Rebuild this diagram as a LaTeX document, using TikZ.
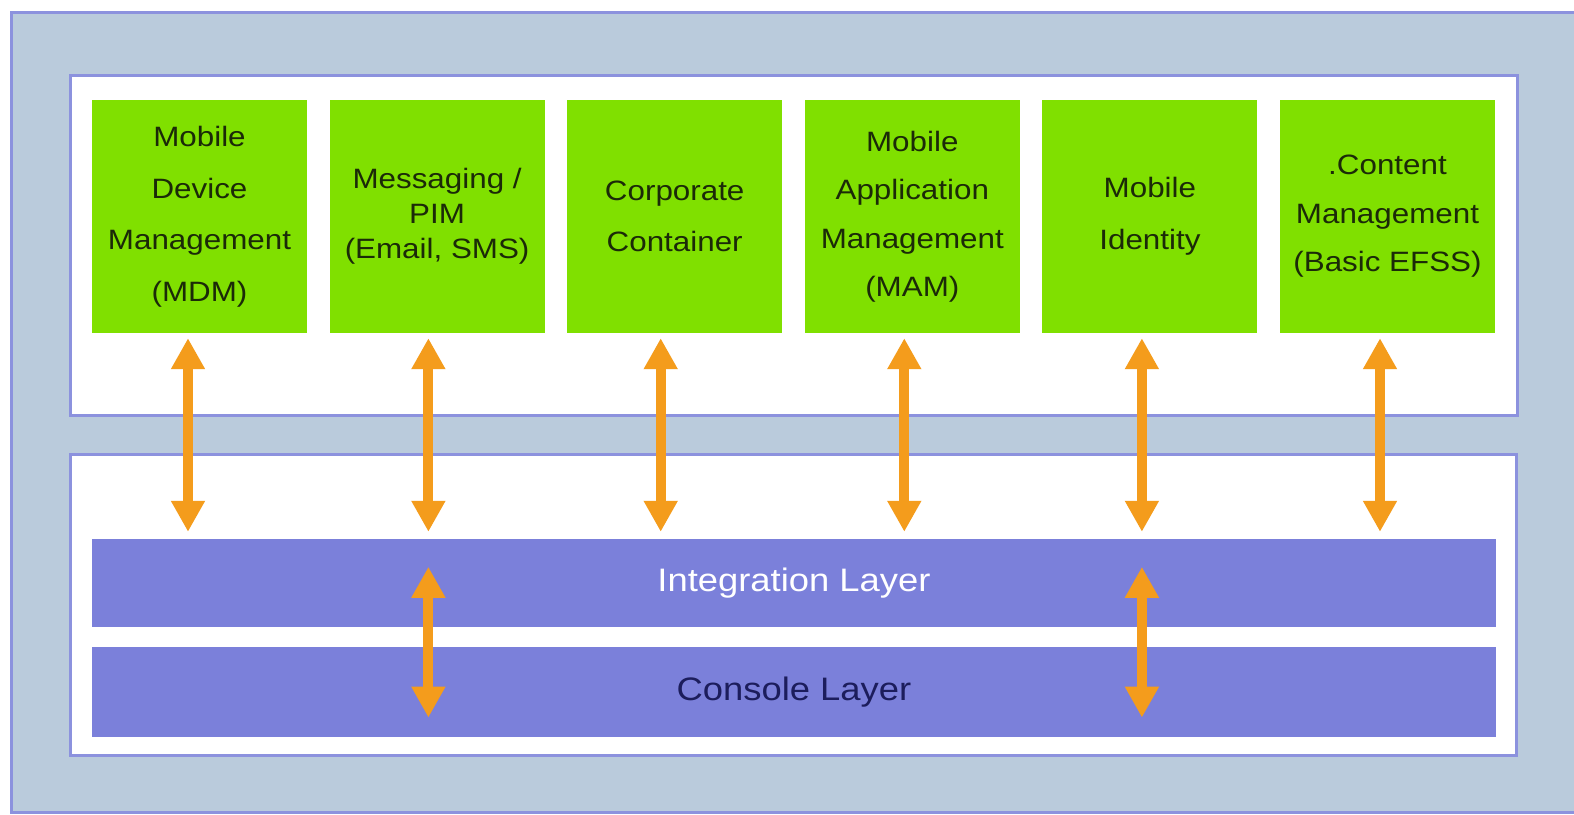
\documentclass[tikz,border=0pt]{standalone}
\usepackage{fontspec}
\setmainfont{Liberation Sans}[FakeStretch=1.12]
\usepackage{xcolor}
\usepackage{tikz}
\usetikzlibrary{positioning}
\usetikzlibrary{arrows.meta}
\usetikzlibrary{calc}

\definecolor{panelblue}{HTML}{BACBDC}
\definecolor{edgeblue}{HTML}{8C92DE}
\definecolor{modgreen}{HTML}{80E000}
\definecolor{layerblue}{HTML}{7B80DA}
\definecolor{arroworange}{HTML}{F49C1C}
\definecolor{textdark}{HTML}{1B2A08}
\definecolor{navytext}{HTML}{1C1D5C}

\begin{document}
\begin{tikzpicture}[x=1pt,y=-1pt,
            module/.style={fill=modgreen,rectangle, align=center, text=textdark,
            minimum width=215pt, minimum height=233pt, inner sep=0pt,
            font=\fontsize{28}{51.5}\selectfont, node distance=22.2pt},
                layer/.style={fill=layerblue,rectangle, minimum width=1404pt, inner sep=0pt,
            font=\fontsize{32.5}{38}\selectfont},
                panel/.style={draw=edgeblue, line width=3pt},
                link/.style={draw=arroworange, line width=10pt,
            {Triangle[width=32pt,length=31pt]}-{Triangle[width=32pt,length=31pt]}}]
            \clip (0,0) rectangle (1574,814);
            % frames
            \draw[panel, fill=panelblue] (11,12) rectangle (1590,812);
            \draw[panel, fill=white] (70,75) rectangle (1517,415);
            \draw[panel, fill=white] (70,454) rectangle (1516,755);

            \node[module] (mdm) at (199.5,216.5) {Mobile\\Device\\Management\\(MDM)};
            \node[module, font=\fontsize{28}{35}\selectfont] (pim) [right=of mdm] {Messaging /\\PIM\\(Email, SMS)};
            \node[module] (container) [right=of pim] {Corporate\\Container};
            \node[module, font=\fontsize{28}{48.5}\selectfont] (mam) [right=of container] {Mobile\\Application\\Management\\(MAM)};
            \node[module] (identity) [right=of mam] {Mobile\\Identity};
            \node[module, font=\fontsize{28}{48.5}\selectfont] (content) [right=of identity] {.Content\\Management\\(Basic EFSS)};
            \node[layer, minimum height=88pt, text=white] (integ) at (794,583) {Integration Layer};
            \node[layer, minimum height=90pt, text=navytext] (console) [below=20pt of integ] {Console Layer};

            \draw[link] ($(mdm.south)+(-11.5,5)$) -- ($(mdm.south |- integ.north)+(-11.5,-7)$);
            \draw[link] ($(pim.south)+(-8.7,5)$) -- ($(pim.south |- integ.north)+(-8.7,-7)$);
            \draw[link] ($(container.south)+(-14,5)$) -- ($(container.south |- integ.north)+(-14,-7)$);
            \draw[link] ($(mam.south)+(-8,5)$) -- ($(mam.south |- integ.north)+(-8,-7)$);
            \draw[link] ($(identity.south)+(-8,5)$) -- ($(identity.south |- integ.north)+(-8,-7)$);
            \draw[link] ($(content.south)+(-7.5,5)$) -- ($(content.south |- integ.north)+(-7.5,-7)$);
            \draw[link] ($(pim.south |- integ.north)+(-8.7,28)$) -- ($(pim.south |- console.south)+(-8.7,-20)$);
            \draw[link] ($(identity.south |- integ.north)+(-8,28)$) -- ($(identity.south |- console.south)+(-8,-20)$);
        \end{tikzpicture}
\end{document}
